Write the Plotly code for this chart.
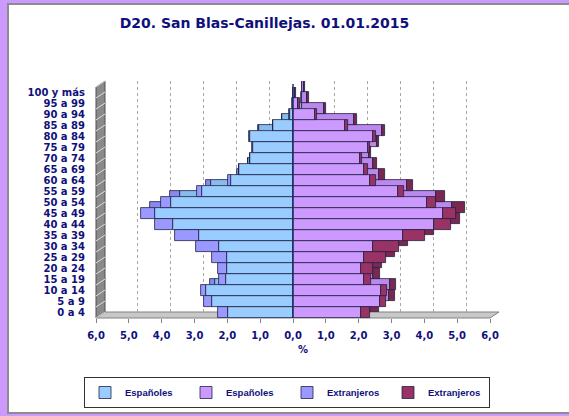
import plotly.graph_objects as go

ages = ["0 a 4", "5 a 9", "10 a 14", "15 a 19", "20 a 24", "25 a 29", "30 a 34",
        "35 a 39", "40 a 44", "45 a 49", "50 a 54", "55 a 59", "60 a 64", "65 a 69",
        "70 a 74", "75 a 79", "80 a 84", "85 a 89", "90 a 94", "95 a 99", "100 y más"]
hombres_esp = [1.97, 2.48, 2.64, 2.04, 2.01, 2.01, 2.26, 2.85, 3.66, 4.20, 3.73, 2.77,
               1.88, 1.63, 1.30, 1.23, 1.32, 0.61, 0.10, 0.03, 0.01]
hombres_ext = [0.30, 0.22, 0.16, 0.20, 0.28, 0.47, 0.68, 0.73, 0.55, 0.42, 0.28, 0.15,
               0.11, 0.03, 0.02, 0.02, 0.02, 0.01, 0.01, 0.00, 0.00]
mujeres_esp = [2.08, 2.64, 2.67, 2.15, 2.08, 2.15, 2.43, 3.36, 4.30, 4.58, 4.08, 3.21,
               2.36, 2.15, 2.03, 2.28, 2.43, 1.58, 0.66, 0.15, 0.05]
mujeres_ext = [0.25, 0.20, 0.19, 0.24, 0.35, 0.69, 0.79, 0.66, 0.51, 0.37, 0.27, 0.16,
               0.16, 0.13, 0.08, 0.08, 0.09, 0.10, 0.08, 0.06, 0.04]
x_ticks = [-6, -5, -4, -3, -2, -1, 0, 1, 2, 3, 4, 5, 6]
x_ticktext = ["6,0", "5,0", "4,0", "3,0", "2,0", "1,0", "0,0", "1,0", "2,0", "3,0", "4,0", "5,0", "6,0"]

W, H = 569, 416
def X(px):
    return px / W
def Y(py):
    return 1 - py / H

NAVY = "#10107A"
tick_font = dict(family="DejaVu Sans", size=10, color=NAVY, weight="bold")

front_cols = ["#99CCFF", "#CC99FF", "#9999FF", "#993366"]
back_cols = ["#88BBEE", "#BB88EE", "#8888EE", "#7A2850"]
names = ["Españoles", "Españoles", "Extranjeros", "Extranjeros"]
series = [[-v for v in hombres_esp], mujeres_esp, [-v for v in hombres_ext], mujeres_ext]

fig = go.Figure()
# back (depth) faces
for s, c in zip(series, back_cols):
    fig.add_trace(go.Bar(y=ages, x=s, orientation="h", marker=dict(color=c, line=dict(color="#222244", width=0.8)),
                         showlegend=False, hoverinfo="skip", xaxis="x", yaxis="y"))
# front faces
for s, c, n in zip(series, front_cols, names):
    fig.add_trace(go.Bar(y=ages, x=s, orientation="h", name=n,
                         marker=dict(color=c, line=dict(color="#222244", width=0.8)),
                         xaxis="x2", yaxis="y2"))

shapes = []
# white panel
shapes.append(dict(type="rect", xref="paper", yref="paper", x0=X(8), x1=X(580), y0=Y(413), y1=Y(4),
                   fillcolor="white", line=dict(color="#8C8C8C", width=2), layer="below"))
# floor
shapes.append(dict(type="path", xref="paper", yref="paper",
                   path=f"M{X(96)},{Y(318)} L{X(490)},{Y(318)} L{X(499)},{Y(312)} L{X(105)},{Y(312)} Z",
                   fillcolor="#C8C8C8", line=dict(color="#808080", width=1), layer="below"))
# left wall
shapes.append(dict(type="path", xref="paper", yref="paper",
                   path=f"M{X(96)},{Y(318)} L{X(96)},{Y(87)} L{X(105)},{Y(81)} L{X(105)},{Y(312)} Z",
                   fillcolor="#8A8A8A", line=dict(color="#505050", width=1), layer="below"))
n = len(ages)
for k in range(n + 1):
    yy = 87 + 231 * k / n
    shapes.append(dict(type="line", xref="paper", yref="paper", x0=X(96), y0=Y(yy), x1=X(105), y1=Y(yy - 6),
                       line=dict(color="#E0E0E0", width=1), layer="below"))
# zero line over the bars
shapes.append(dict(type="line", xref="x2", yref="paper", x0=0, x1=0, y0=Y(318), y1=Y(84),
                   line=dict(color="#1F2F5F", width=1.5), layer="above"))

fig.update_layout(
    template="none",
    width=W, height=H,
    margin=dict(l=0, r=0, t=0, b=0, autoexpand=False),
    paper_bgcolor="#CC99FF",
    plot_bgcolor="rgba(0,0,0,0)",
    barmode="relative",
    bargap=0,
    shapes=shapes,
    title=dict(text="D20. San Blas-Canillejas. 01.01.2015", x=X(264.5), xanchor="center", y=Y(23), yanchor="middle",
               font=dict(family="DejaVu Sans", size=14, color=NAVY, weight="bold")),
    xaxis=dict(domain=[X(105), X(499)], range=[-6, 6], anchor="y", showticklabels=False, automargin=False,
               tickvals=[-5, -4, -3, -2, -1, 1, 2, 3, 4, 5], showgrid=True, gridcolor="#A8A8A8", griddash="dot",
               gridwidth=1, zeroline=False, showline=False, ticks=""),
    yaxis=dict(domain=[Y(312), Y(81)], anchor="x", type="category", categoryorder="array", categoryarray=ages,
               showticklabels=False, showgrid=False, zeroline=False, showline=False, automargin=False, ticks=""),
    xaxis2=dict(domain=[X(96), X(490)], range=[-6, 6], anchor="y2", tickmode="array", tickvals=x_ticks,
                ticktext=x_ticktext, automargin=False,
                ticks="outside", ticklen=4, tickcolor="#808080", showgrid=False, zeroline=False,
                showline=False, tickfont=tick_font, ticklabelstandoff=4),
    yaxis2=dict(domain=[Y(318), Y(87)], anchor="x2", type="category", categoryorder="array", categoryarray=ages,
                tickmode="array", tickvals=ages, ticktext=ages, automargin=False,
                showgrid=False, zeroline=False, showline=False, ticks="", tickfont=tick_font,
                ticklabelstandoff=10),
    legend=dict(orientation="h", x=X(84), y=Y(377), xanchor="left", yanchor="top",
                bordercolor="#333333", borderwidth=1, bgcolor="white",
                font=dict(family="Liberation Sans", size=9.5, color=NAVY, weight="bold"),
                entrywidth=56, traceorder="normal"),
    annotations=[dict(text="%", x=X(303), y=Y(357), xref="paper", yref="paper", showarrow=False,
                      font=dict(family="DejaVu Sans", size=10, color=NAVY, weight="bold"))],
)

fig.write_html("out.html", config={"displayModeBar": False},
               post_script="document.body.style.margin='0';document.body.style.overflow='hidden';")
